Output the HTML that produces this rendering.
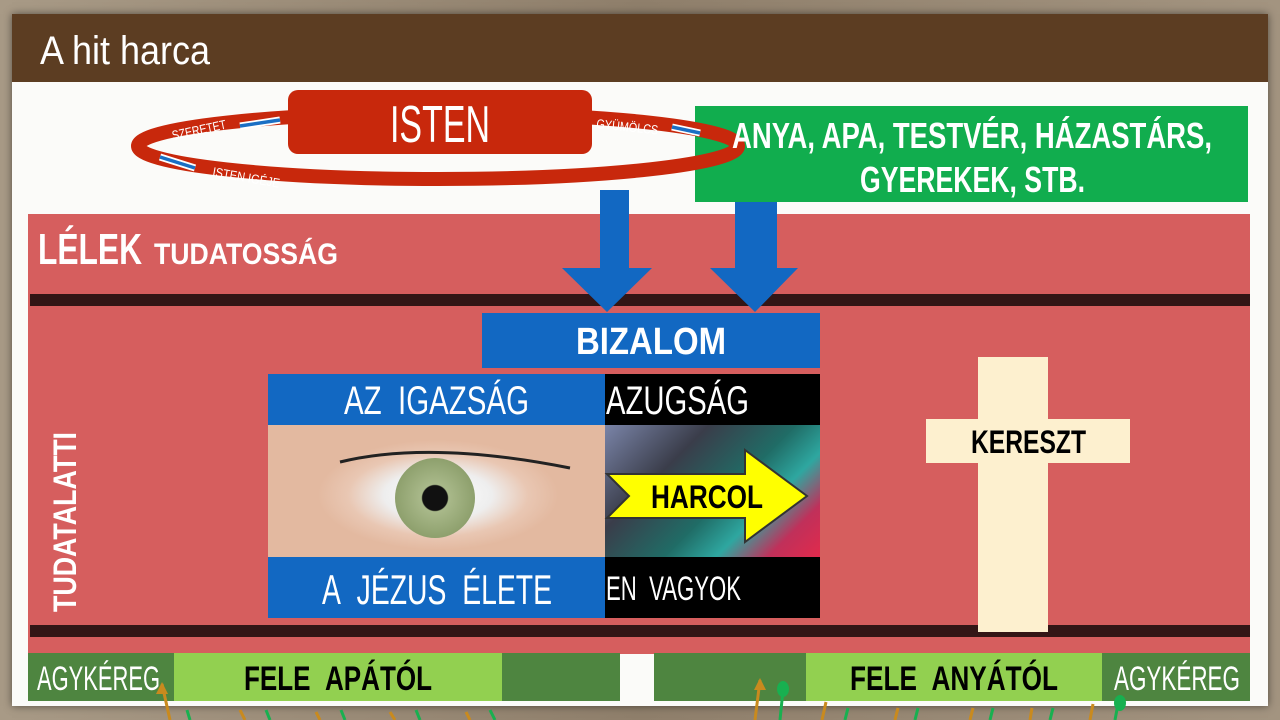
<!DOCTYPE html>
<html><head><meta charset="utf-8"><style>
*{margin:0;padding:0;box-sizing:border-box}
body{width:1280px;height:720px;overflow:hidden;background:linear-gradient(90deg,#a89a86,#8f7f6b 50%,#a39480);position:relative;font-family:"Liberation Sans",sans-serif}
.a{position:absolute}
svg text{font-family:"Liberation Sans",sans-serif}
</style></head><body>
<div class="a" style="left:12px;top:14px;width:1256px;height:692px;background:#fbfbf9;box-shadow:0 0 8px rgba(0,0,0,.5)"></div>
<div class="a" style="left:12px;top:14px;width:1256px;height:68px;background:#5c3d22"></div>

<div class="a" style="left:28px;top:214px;width:1222px;height:440px;background:#d65e5e"></div>
<div class="a" style="left:30px;top:294px;width:1220px;height:12px;background:#331616"></div>
<div class="a" style="left:30px;top:625px;width:1220px;height:12px;background:#331616"></div>

<div class="a" style="left:695px;top:106px;width:553px;height:96px;background:#11ad4e"></div>

<div class="a" style="left:482px;top:313px;width:338px;height:55px;background:#1268c2"></div>
<div class="a" style="left:268px;top:374px;width:337px;height:51px;background:#1268c2"></div>
<div class="a" style="left:605px;top:374px;width:215px;height:51px;background:#000"></div>
<div class="a" style="left:268px;top:425px;width:337px;height:132px;background:radial-gradient(ellipse 120px 55px at 170px 70px,#fff 0,#eee 45%,#e9c7b3 75%,#e3b9a0 100%)"></div>
<div class="a" style="left:395px;top:458px;width:80px;height:80px;border-radius:50%;background:radial-gradient(circle,#111 0 22%,#a9b98a 24%,#8ea06d 70%,#5e6e4c 100%)"></div>
<div class="a" style="left:605px;top:425px;width:215px;height:132px;background:linear-gradient(135deg,#7a84a8 0%,#3a3d4a 30%,#206c66 55%,#2ea7a0 70%,#c0305a 85%,#e12a4c 100%)"></div>
<div class="a" style="left:268px;top:557px;width:337px;height:61px;background:#1268c2"></div>
<div class="a" style="left:605px;top:557px;width:215px;height:61px;background:#000"></div>

<div class="a" style="left:978px;top:357px;width:70px;height:275px;background:#fdf0cf"></div>
<div class="a" style="left:926px;top:419px;width:204px;height:44px;background:#fdf0cf"></div>

<div class="a" style="left:28px;top:653px;width:592px;height:48px;background:#4e8540"></div>
<div class="a" style="left:654px;top:653px;width:596px;height:48px;background:#4e8540"></div>
<div class="a" style="left:174px;top:653px;width:328px;height:48px;background:#92d050"></div>
<div class="a" style="left:806px;top:653px;width:296px;height:48px;background:#92d050"></div>

<svg class="a" style="left:0;top:0" width="1280" height="720">
<ellipse cx="438" cy="146" rx="300" ry="33" fill="none" stroke="#c8280c" stroke-width="14"/>
<rect x="288" y="90" width="304" height="64" rx="10" fill="#c8280c"/>
<g stroke="#fff" stroke-width="7"><line x1="280" y1="120" x2="240" y2="126"/><line x1="700" y1="133" x2="672" y2="127"/><line x1="160" y1="157" x2="195" y2="168"/></g>
<g stroke="#1a6fc4" stroke-width="3.5"><line x1="280" y1="120" x2="240" y2="126"/><line x1="700" y1="133" x2="672" y2="127"/><line x1="160" y1="157" x2="195" y2="168"/></g>
<polygon points="600,190 629,190 629,268 652,268 607,312 562,268 600,268" fill="#1268c2"/>
<polygon points="735,202 777,202 777,268 798,268 755,312 710,268 735,268" fill="#1268c2"/>
<path d="M340 462 Q430 440 570 468" fill="none" stroke="#222" stroke-width="3"/>
<polygon points="607,474 745,474 745,450 807,496 745,542 745,518 607,518 629,496" fill="#ffff00" stroke="#333" stroke-width="2"/>

<g fill="#fff" lengthAdjust="spacingAndGlyphs">
<text x="40" y="64" font-size="40" textLength="170" lengthAdjust="spacingAndGlyphs">A hit harca</text>
<text x="390" y="142" font-size="52" textLength="100" lengthAdjust="spacingAndGlyphs">ISTEN</text>
<text x="173" y="140" font-size="13" textLength="55" lengthAdjust="spacingAndGlyphs" transform="rotate(-12 173 140)">SZERETET</text>
<text x="596" y="128" font-size="13" textLength="62" lengthAdjust="spacingAndGlyphs" transform="rotate(6 596 128)">GYÜMÖLCS</text>
<text x="212" y="176" font-size="13" textLength="68" lengthAdjust="spacingAndGlyphs" transform="rotate(10 212 176)">ISTEN IGÉJE</text>
<text x="732" y="148" font-size="36" font-weight="bold" textLength="480" lengthAdjust="spacingAndGlyphs">ANYA, APA, TESTVÉR, HÁZASTÁRS,</text>
<text x="860" y="192" font-size="36" font-weight="bold" textLength="225" lengthAdjust="spacingAndGlyphs">GYEREKEK, STB.</text>
<text x="38" y="264" font-size="44" font-weight="bold" textLength="104" lengthAdjust="spacingAndGlyphs">LÉLEK</text>
<text x="154" y="264" font-size="30" font-weight="bold" textLength="184" lengthAdjust="spacingAndGlyphs">TUDATOSSÁG</text>
<text x="0" y="0" font-size="32" font-weight="bold" textLength="180" lengthAdjust="spacingAndGlyphs" transform="translate(76 612) rotate(-90)">TUDATALATTI</text>
<text x="576" y="354" font-size="38" font-weight="bold" textLength="150" lengthAdjust="spacingAndGlyphs">BIZALOM</text>
<text x="344" y="414" font-size="40" textLength="185" lengthAdjust="spacingAndGlyphs">AZ&#160;&#160;IGAZSÁG</text>
<text x="606" y="414" font-size="40" textLength="143" lengthAdjust="spacingAndGlyphs">AZUGSÁG</text>
<text x="322" y="604" font-size="42" textLength="230" lengthAdjust="spacingAndGlyphs">A&#160;&#160;JÉZUS&#160;&#160;ÉLETE</text>
<text x="606" y="600" font-size="34" textLength="135" lengthAdjust="spacingAndGlyphs">EN&#160;&#160;VAGYOK</text>
<text x="37" y="690" font-size="34" textLength="123" lengthAdjust="spacingAndGlyphs">AGYKÉREG</text>
<text x="1114" y="690" font-size="34" textLength="126" lengthAdjust="spacingAndGlyphs">AGYKÉREG</text>
</g>
<g fill="#000" font-weight="bold">
<text x="651" y="508" font-size="32" textLength="112" lengthAdjust="spacingAndGlyphs">HARCOL</text>
<text x="971" y="453" font-size="32" textLength="115" lengthAdjust="spacingAndGlyphs">KERESZT</text>
<text x="244" y="690" font-size="34" textLength="188" lengthAdjust="spacingAndGlyphs">FELE&#160;&#160;APÁTÓL</text>
<text x="850" y="690" font-size="34" textLength="208" lengthAdjust="spacingAndGlyphs">FELE&#160;&#160;ANYÁTÓL</text>
</g>

<g transform="translate(0 670)">
<g stroke="#c98a1e" stroke-width="3"><line x1="170" y1="50" x2="162" y2="14"/><line x1="245" y1="50" x2="240" y2="40"/><line x1="320" y1="50" x2="316" y2="42"/><line x1="395" y1="50" x2="390" y2="42"/><line x1="470" y1="50" x2="466" y2="42"/><line x1="755" y1="50" x2="760" y2="10"/><line x1="822" y1="50" x2="826" y2="32"/><line x1="895" y1="50" x2="898" y2="38"/><line x1="970" y1="50" x2="973" y2="38"/><line x1="1030" y1="50" x2="1032" y2="38"/><line x1="1090" y1="50" x2="1093" y2="34"/></g>
<g stroke="#18b050" stroke-width="3"><line x1="190" y1="50" x2="187" y2="40"/><line x1="270" y1="50" x2="266" y2="40"/><line x1="345" y1="50" x2="341" y2="40"/><line x1="420" y1="50" x2="416" y2="40"/><line x1="495" y1="50" x2="490" y2="40"/><line x1="780" y1="50" x2="783" y2="20"/><line x1="845" y1="50" x2="848" y2="38"/><line x1="915" y1="50" x2="918" y2="38"/><line x1="990" y1="50" x2="993" y2="38"/><line x1="1050" y1="50" x2="1053" y2="38"/><line x1="1115" y1="50" x2="1118" y2="34"/></g>
<polygon points="162,12 156,24 168,24" fill="#c98a1e"/><polygon points="760,8 754,20 766,20" fill="#c98a1e"/>
<ellipse cx="783" cy="19" rx="6" ry="8" fill="#18b050"/><ellipse cx="1120" cy="33" rx="6" ry="8" fill="#18b050"/>
</g>
</svg>
</body></html>
